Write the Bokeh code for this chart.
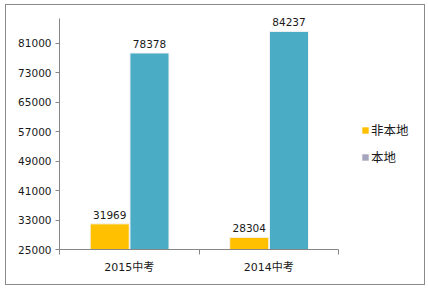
from bokeh.plotting import figure
from bokeh.layouts import row
from bokeh.models import (ColumnDataSource, Range1d, FixedTicker, LabelSet, Legend, LegendItem,
                          LinearAxis)
from bokeh.core.properties import value
from bokeh.embed import file_html
from bokeh.resources import INLINE

categories = ["2015中考", "2014中考"]
non_local = [31969, 28304]
local = [78378, 84237]
y_ticks = [25000, 33000, 41000, 49000, 57000, 65000, 73000, 81000]
series_names = ["非本地", "本地"]

FONT = "DejaVu Sans, Noto Sans CJK SC"
YELLOW = "#FFC000"
BLUE = "#4BACC6"
LEGEND_GRAY = "#A5A5BD"

n = len(categories)
idx = list(range(n))
centers = [i + 0.5 for i in idx]
src = ColumnDataSource(dict(
    cat=categories,
    x_nl=[c - 0.14 for c in centers],
    x_l=[c + 0.145 for c in centers],
    nl=non_local, l=local,
    nl_txt=[str(v) for v in non_local], l_txt=[str(v) for v in local],
))

p = figure(width=333, height=279, output_backend="svg", toolbar_location=None,
           x_range=Range1d(0, n), y_range=Range1d(25000, 91000),
           min_border_left=53, min_border_right=1, min_border_top=1, min_border_bottom=35,
           x_axis_type=None, y_axis_type=None)
p.outline_line_color = None
p.grid.visible = False
p.background_fill_color = "white"
p.border_fill_color = "white"

base = 25000
p.vbar(x="x_nl", top="nl", bottom=base, width=0.28, source=src, fill_color=YELLOW,
       line_color="#f4f4f4", line_width=1)
p.vbar(x="x_l", top="l", bottom=base, width=0.28, source=src, fill_color=BLUE,
       line_color="#f4f4f4", line_width=1)

for xcol, ycol, tcol in (("x_nl", "nl", "nl_txt"), ("x_l", "l", "l_txt")):
    p.add_layout(LabelSet(x=xcol, y=ycol, text=tcol, source=src, y_offset=5,
                          text_align="center", text_baseline="bottom",
                          text_font=value(FONT), text_font_size=value("10.5px"),
                          text_color="#1a1a1a"))

yax = LinearAxis(ticker=FixedTicker(ticks=y_ticks), bounds=(25000, 87800))
yax.axis_line_color = "#868686"
yax.major_tick_line_color = "#868686"
yax.major_tick_out = 4
yax.major_tick_in = 0
yax.minor_tick_line_color = None
yax.major_label_text_font = FONT
yax.major_label_text_font_size = "10.5px"
yax.major_label_text_color = "#1a1a1a"
yax.major_label_standoff = 4
p.add_layout(yax, "left")

xax = LinearAxis(ticker=FixedTicker(ticks=centers, minor_ticks=[0] + [i + 1 for i in idx]))
xax.major_label_overrides = {c: categories[i] for i, c in enumerate(centers)}
xax.axis_line_color = "#868686"
xax.major_tick_line_color = None
xax.major_tick_out = 0
xax.major_tick_in = 0
xax.minor_tick_line_color = "#868686"
xax.minor_tick_out = 5
xax.minor_tick_in = 0
xax.major_label_text_font = FONT
xax.major_label_text_font_size = "11px"
xax.major_label_text_color = "#1a1a1a"
xax.major_label_standoff = 6
p.add_layout(xax, "below")

# legend panel
q = figure(width=85, height=279, output_backend="svg", toolbar_location=None,
           x_range=Range1d(0, 1), y_range=Range1d(0, 1),
           min_border=0, x_axis_type=None, y_axis_type=None)
q.outline_line_color = None
q.grid.visible = False
q.border_fill_color = "white"
r1 = q.vbar(x=[5.0], top=[6.0], bottom=5.0, width=0.1, fill_color=YELLOW, line_color=None)
r2 = q.vbar(x=[5.0], top=[6.0], bottom=5.0, width=0.1, fill_color=LEGEND_GRAY, line_color=None)
legend = Legend(items=[LegendItem(label=series_names[0], renderers=[r1]),
                       LegendItem(label=series_names[1], renderers=[r2])],
                location=(22, 83), orientation="vertical")
legend.label_text_font = FONT
legend.label_text_font_size = "12.5px"
legend.label_text_color = "#1a1a1a"
legend.glyph_width = 8
legend.glyph_height = 8
legend.label_standoff = 2
legend.spacing = 8
legend.padding = 0
legend.margin = 0
legend.border_line_color = None
legend.background_fill_alpha = 0
q.add_layout(legend, "center")

layout = row(p, q)
layout.margin = (4, 0, 0, 5)
layout.styles = {"border": "1px solid #8a8a8a", "background": "white"}

open("out.html", "w").write(file_html(layout, INLINE))
